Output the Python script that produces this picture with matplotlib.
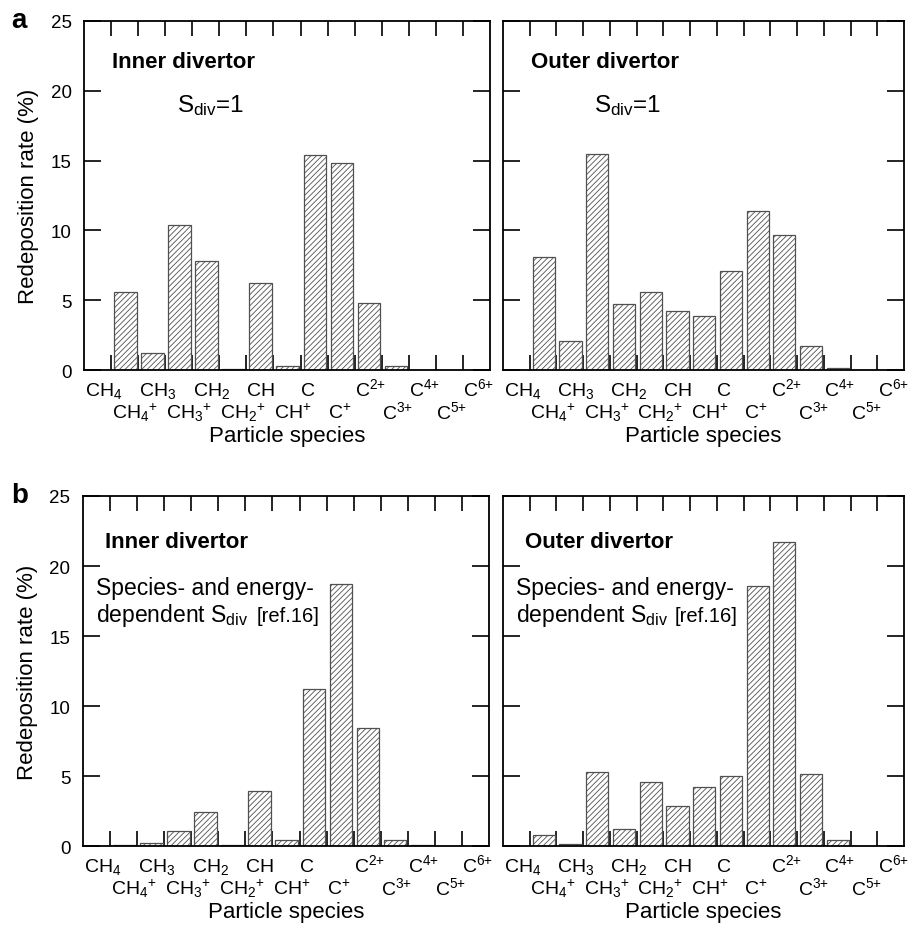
import numpy as np
import matplotlib
matplotlib.use("Agg")
import matplotlib.pyplot as plt
from matplotlib.transforms import blended_transform_factory

plt.rcParams['font.family'] = ['Liberation Sans', 'DejaVu Sans']
plt.rcParams['mathtext.fontset'] = 'custom'
plt.rcParams['mathtext.rm'] = 'Liberation Sans'
plt.rcParams['mathtext.it'] = 'Liberation Sans:italic'
plt.rcParams['mathtext.bf'] = 'Liberation Sans:bold'
plt.rcParams['hatch.linewidth'] = 0.6

# ---- data ----
species = [r"CH$_4$", r"CH$_4$$^{{+}}$", r"CH$_3$", r"CH$_3$$^{{+}}$", r"CH$_2$", r"CH$_2$$^{{+}}$",
           "CH", r"CH$^{{+}}$", "C", r"C$^{{+}}$", r"C$^{2{+}}$", r"C$^{3{+}}$", r"C$^{4{+}}$",
           r"C$^{5{+}}$", r"C$^{6{+}}$"]
inner_sdiv1 = [0, 5.6, 1.2, 10.4, 7.8, 0.07, 6.2, 0.3, 15.4, 14.8, 4.8, 0.3, 0.03, 0, 0]
outer_sdiv1 = [0, 8.1, 2.1, 15.5, 4.7, 5.6, 4.2, 3.9, 7.1, 11.4, 9.7, 1.7, 0.12, 0, 0]
inner_dep = [0, 0.05, 0.18, 1.1, 2.4, 0.07, 3.9, 0.4, 11.2, 18.7, 8.4, 0.45, 0.06, 0, 0]
outer_dep = [0, 0.8, 0.12, 5.3, 1.2, 4.55, 2.85, 4.2, 5.0, 18.6, 21.7, 5.15, 0.45, 0, 0]

panels = [
    (inner_sdiv1, 84, 406, 22, 371, "Inner divertor", "sdiv1", "a"),
    (outer_sdiv1, 503, 401, 22, 371, "Outer divertor", "sdiv1", None),
    (inner_dep, 83, 406, 497, 847, "Inner divertor", "dep", "b"),
    (outer_dep, 503, 401, 497, 847, "Outer divertor", "dep", None),
]

W, H = 910, 937
fig = plt.figure(figsize=(W / 100, H / 100), dpi=100)

x = np.arange(len(species))
for vals, left, width, top, bottom, title, note, letter in panels:
    ax = fig.add_axes([left / W, 1 - bottom / H, width / W, (bottom - top) / H])
    vals = np.asarray(vals, dtype=float)
    mask = vals > 0
    ax.bar(x[mask] + 0.11, vals[mask], width=0.83, align='edge',
           facecolor='white', edgecolor='#505050', linewidth=0.9,
           hatch='//////', zorder=2)
    ax.set_xlim(0, len(species))
    ax.set_ylim(0, 25)
    ax.set_xticks(np.arange(1, len(species)))
    ax.set_xticklabels([])
    ax.set_yticks([0, 5, 10, 15, 20, 25])
    ax.tick_params(axis='x', direction='in', length=11, width=1.2,
                   top=True, bottom=True)
    ax.tick_params(axis='y', direction='in', length=12, width=1.2,
                   left=True, right=True, labelsize=13.5, pad=9)
    for s in ax.spines.values():
        s.set_linewidth(1.3)
    if left < 500:
        ax.set_ylabel("Redeposition rate (%)", fontsize=16, labelpad=8)
    else:
        ax.set_yticklabels([])

    trans = blended_transform_factory(ax.transData, ax.transAxes)
    for i, lab in enumerate(species):
        yy = -0.0716 if i % 2 == 0 else -0.1375
        ax.text(i + 0.02, yy, lab, transform=trans, ha='left', va='baseline',
                fontsize=14)
    ax.text(0.5, -0.203, "Particle species", transform=ax.transAxes,
            ha='center', va='baseline', fontsize=16)

    if note == "sdiv1":
        ax.text(0.07, 0.868, title, transform=ax.transAxes, fontsize=16,
                fontweight='bold', ha='left', va='baseline')
        ax.text(0.228, 0.742, r"S$_{\mathrm{div}}$=1", transform=ax.transAxes,
                fontsize=17.5, ha='left', va='baseline')
    else:
        ax.text(0.055, 0.854, title, transform=ax.transAxes, fontsize=16,
                fontweight='bold', ha='left', va='baseline')
        ax.text(0.032, 0.72, "Species- and energy-", transform=ax.transAxes,
                fontsize=16.5, ha='left', va='baseline')
        ax.text(0.032, 0.643, r"dependent S$_{\mathrm{div}}$", transform=ax.transAxes,
                fontsize=16.5, ha='left', va='baseline')
        ax.text(0.428, 0.643, "[ref.16]", transform=ax.transAxes,
                fontsize=14.5, ha='left', va='baseline')

    if letter:
        fig.text(11 / W, 1 - (top + 6) / H, letter, fontsize=20,
                 fontweight='bold', ha='left', va='baseline')

fig.savefig("out.png", dpi=100)
